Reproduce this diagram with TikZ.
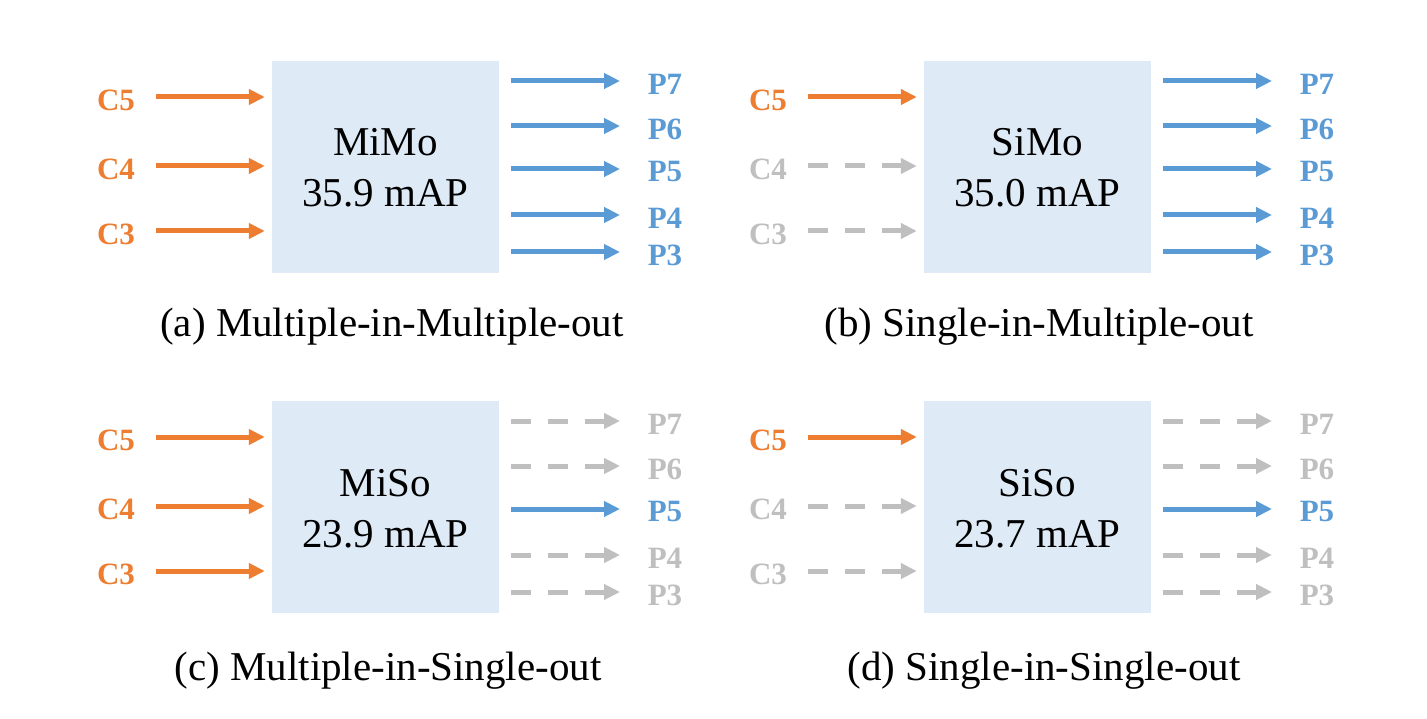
\documentclass[tikz,border=0pt]{standalone}
\usepackage{fontspec}
\setmainfont{Liberation Serif}
\usetikzlibrary{arrows.meta}
\definecolor{cor}{HTML}{ED7D31}
\definecolor{cbl}{HTML}{5B9BD5}
\definecolor{cgr}{HTML}{BFBFBF}
\definecolor{cbox}{HTML}{DEEBF7}
\tikzset{
  boxst/.style={fill=cbox, draw=none, minimum width=227pt, minimum height=212pt, inner sep=0pt},
  arrbase/.style={line width=5pt, -{Triangle[length=16pt,width=15pt]}},
  arrCon/.style={arrbase, draw=cor, shorten <=40pt, shorten >=7pt},
  arrCoff/.style={arrbase, draw=cgr, dash pattern=on 20pt off 17pt, shorten <=40pt, shorten >=7pt},
  arrPon/.style={arrbase, draw=cbl, shorten <=12pt, shorten >=45pt},
  arrPoff/.style={arrbase, draw=cgr, dash pattern=on 20pt off 17pt, shorten <=12pt, shorten >=45pt},
  labbase/.style={font=\fontsize{31}{31}\selectfont\bfseries, inner sep=0pt},
  labCon/.style={labbase, text=cor},
  labCoff/.style={labbase, text=cgr},
  labPon/.style={labbase, text=cbl},
  labPoff/.style={labbase, text=cgr},
  boxtxt/.style={font=\fontsize{41}{41}\selectfont, anchor=base, inner sep=0pt},
  captxt/.style={font=\fontsize{41}{41}\selectfont, anchor=base, inner sep=0pt},
}
\newcommand\mkpanel[7]{%
  \begin{scope}[shift={(#1,#2)}]
    \node[boxst] (box#3) at (385.5,167) {};
    \node[boxtxt] (name#3) at (385.5,156) {#4};
    \node[boxtxt] (score#3) at (385.5,207) {#5};
    \foreach \n/\y/\ar/\lb in {#6}{
      \node[\lb] (#3C\n) at (116,\y+3) {C\n};
      \draw[\ar] ([yshift=3pt]#3C\n.center) -- ([yshift=3pt]#3C\n.center -| box#3.west);
    }
    \foreach \n/\y/\ar/\lb in {#7}{
      \node[\lb] (#3P\n) at (665,\y+3) {P\n};
      \draw[\ar] ([yshift=3pt]#3P\n.center -| box#3.east) -- ([yshift=3pt]#3P\n.center);
    }
  \end{scope}%
}
\begin{document}
\begin{tikzpicture}[x=1pt,y=-1pt]
\useasboundingbox[fill=white] (0,0) rectangle (1427,719);
\mkpanel{0}{0}{a}{MiMo}{35.9 mAP}%
  {5/97/arrCon/labCon,4/166/arrCon/labCon,3/231/arrCon/labCon}%
  {7/81/arrPon/labPon,6/126/arrPon/labPon,5/169/arrPon/labPon,4/215/arrPon/labPon,3/252/arrPon/labPon}
\mkpanel{652}{0}{b}{SiMo}{35.0 mAP}%
  {5/97/arrCon/labCon,4/166/arrCoff/labCoff,3/231/arrCoff/labCoff}%
  {7/81/arrPon/labPon,6/126/arrPon/labPon,5/169/arrPon/labPon,4/215/arrPon/labPon,3/252/arrPon/labPon}
\mkpanel{0}{340}{c}{MiSo}{23.9 mAP}%
  {5/97/arrCon/labCon,4/166/arrCon/labCon,3/231/arrCon/labCon}%
  {7/81/arrPoff/labPoff,6/126/arrPoff/labPoff,5/169/arrPon/labPon,4/215/arrPoff/labPoff,3/252/arrPoff/labPoff}
\mkpanel{652}{340}{d}{SiSo}{23.7 mAP}%
  {5/97/arrCon/labCon,4/166/arrCoff/labCoff,3/231/arrCoff/labCoff}%
  {7/81/arrPoff/labPoff,6/126/arrPoff/labPoff,5/169/arrPon/labPon,4/215/arrPoff/labPoff,3/252/arrPoff/labPoff}
\node[captxt] (capa) at (392,337) {(a) Multiple-in-Multiple-out};
\node[captxt] (capb) at (1039,337) {(b) Single-in-Multiple-out};
\node[captxt] (capc) at (388,680) {(c) Multiple-in-Single-out};
\node[captxt] (capd) at (1044,680) {(d) Single-in-Single-out};
\end{tikzpicture}
\end{document}
